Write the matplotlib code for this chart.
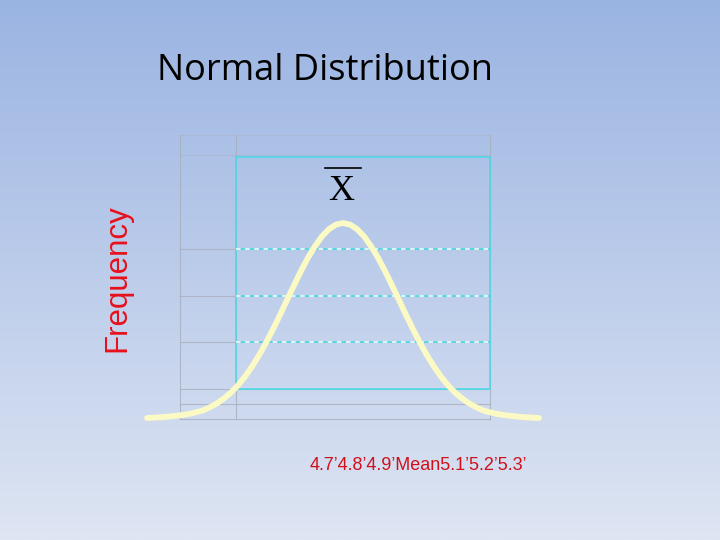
import numpy as np
import matplotlib
matplotlib.use("Agg")
from matplotlib import pyplot as plt

x_values = [4.6500, 4.6625, 4.6750, 4.6875, 4.7000, 4.7125, 4.7250, 4.7375, 4.7500, 4.7625,
            4.7750, 4.7875, 4.8000, 4.8125, 4.8250, 4.8375, 4.8500, 4.8625, 4.8750, 4.8875,
            4.9000, 4.9125, 4.9250, 4.9375, 4.9500, 4.9625, 4.9750, 4.9875, 5.0000,
            5.0125, 5.0250, 5.0375, 5.0500, 5.0625, 5.0750, 5.0875, 5.1000, 5.1125, 5.1250,
            5.1375, 5.1500, 5.1625, 5.1750, 5.1875, 5.2000, 5.2125, 5.2250, 5.2375, 5.2500,
            5.2625, 5.2750, 5.2875, 5.3000, 5.3125, 5.3250, 5.3375, 5.3500]
frequency = [0.5, 0.7, 0.9, 1.2, 1.6, 2.0, 2.6, 3.4, 4.4, 6.0,
             8.0, 10.5, 13.5, 17.2, 21.6, 26.7, 32.5, 38.9, 45.8, 53.1,
             60.7, 68.2, 75.5, 82.3, 88.2, 93.2, 96.9, 99.2, 100.0,
             99.2, 96.9, 93.2, 88.2, 82.3, 75.5, 68.2, 60.7, 53.1, 45.8,
             38.9, 32.5, 26.7, 21.6, 17.2, 13.5, 10.5, 8.0, 6.0, 4.4,
             3.4, 2.6, 2.0, 1.6, 1.2, 0.9, 0.7, 0.5]
tick_labels = ['4.7\u2019', '4.8\u2019', '4.9\u2019', 'Mean', '5.1\u2019', '5.2\u2019', '5.3\u2019']

W, H = 720, 540
fig = plt.figure(figsize=(W / 100, H / 100), dpi=100)


def fx(px):
    return px / W


def fy(py):
    return 1 - py / H


# slide background: vertical gradient
bg = fig.add_axes([0, 0, 1, 1])
top = np.array([154, 180, 226]) / 255
bottom = np.array([222, 229, 243]) / 255
t = np.linspace(0, 1, 256)[:, None]
grad = top * (1 - t) + bottom * t
bg.imshow(grad[:, None, :], aspect='auto', extent=[0, 1, 0, 1])
bg.set_axis_off()

# overlay for the drawn grid (pixel coordinates)
ov = fig.add_axes([0, 0, 1, 1], zorder=1)
ov.set_xlim(0, W)
ov.set_ylim(H, 0)
ov.set_axis_off()
ov.patch.set_alpha(0)

gray = '#a9aebd'
for xv in [180, 236, 490]:
    ov.plot([xv, xv], [135, 419], color=gray, lw=0.8, alpha=0.8)
for yv, a in [(135, 0.35), (155, 0.35), (249, 0.8), (296, 0.8), (342, 0.8),
              (389, 0.8), (404, 0.8), (419, 0.8)]:
    ov.plot([180, 490], [yv, yv], color=gray, lw=0.8, alpha=a)

cyan = '#45dbe6'
ov.plot([236, 490, 490, 236, 236], [157, 157, 389, 389, 157], color=cyan, lw=1.1)
for yv in [249, 296, 342]:
    ov.plot([236, 490], [yv, yv], color=cyan, lw=1.1)
    ov.plot([236, 490], [yv, yv], color='white', lw=1.1, dashes=(3, 3))

# X bar symbol
ov.text(341, 192, 'X', fontsize=26, family='Liberation Serif',
        ha='center', va='center', color='black')
ov.plot([325, 361], [168, 168], color='black', lw=1.2)

# the curve
ax = fig.add_axes([fx(147), fy(419), 392 / W, 196 / H], zorder=2)
ax.plot(x_values, frequency, color='#fcfac4', lw=4.2,
        solid_capstyle='round', solid_joinstyle='round', clip_on=False)
ax.set_xlim(4.65, 5.35)
ax.set_ylim(0, 100)
ax.set_axis_off()
ax.patch.set_alpha(0)

# texts
fig.text(fx(325), fy(71), 'Normal Distribution', fontsize=26, family='Open Sans',
         ha='center', va='center', color='black')
fig.text(fx(117), fy(278), 'Frequency', fontsize=22.5, family='Liberation Sans',
         rotation=90, ha='center', va='center', color='#e8101a')
fig.text(fx(418), fy(466), ''.join(tick_labels), fontsize=13, family='Liberation Sans',
         ha='center', va='center', color='#d0101a')

fig.savefig('out.png', dpi=100)
